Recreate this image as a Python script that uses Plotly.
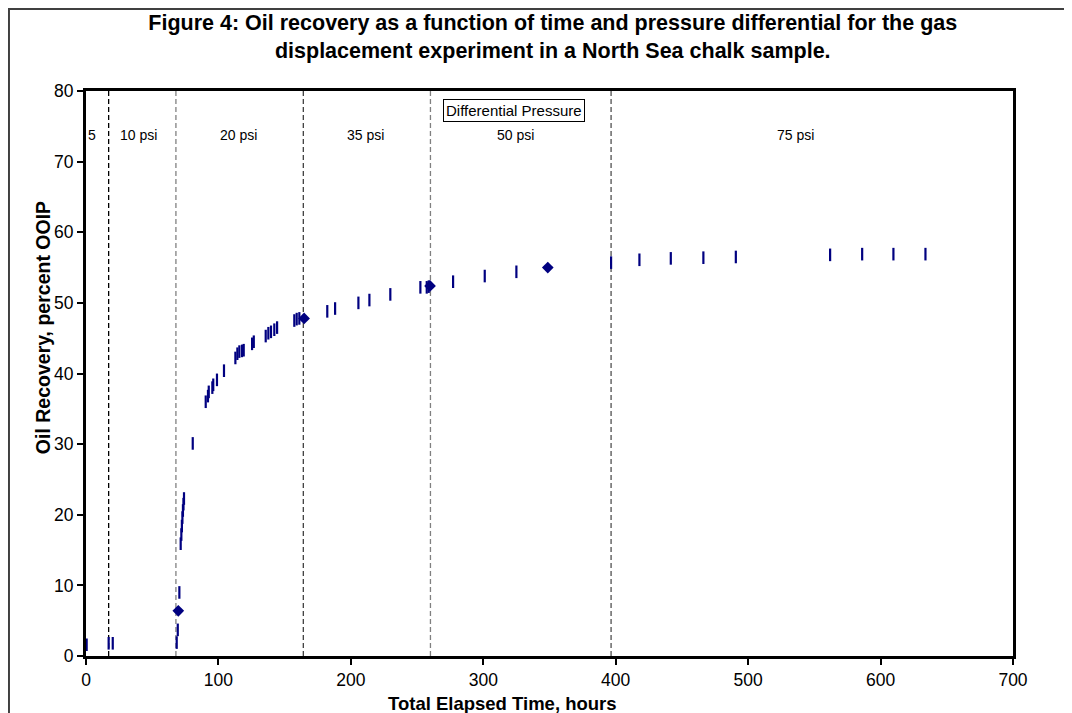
import plotly.graph_objects as go

# ---- data ----
time_h = [0.5, 17.1, 20.2, 68.5, 69.3, 70.5, 71.5, 72.0, 72.4, 72.8, 73.2, 73.6, 74.0,
          80.6, 90.4, 92.1, 92.7, 95.4, 96.1, 98.9, 104.2, 112.8, 114.3, 115.8, 117.8,
          119.1, 125.4, 126.7, 135.7, 137.7, 139.7, 142.2, 144.3, 157.3, 159.1, 161.1,
          182.2, 188.1, 205.7, 214.0, 229.8, 252.5, 257.3, 258.8, 277.2, 301.1, 325.0,
          396.5, 417.9, 441.6, 466.2, 490.7, 561.9, 586.1, 609.7, 633.9]
recovery = [1.6, 1.8, 1.8, 1.9, 3.7, 9.0, 15.9, 17.2, 18.4, 19.6, 20.6, 21.5, 22.3,
            30.1, 36.0, 36.8, 37.4, 38.0, 38.4, 39.1, 40.4, 42.2, 42.8, 43.1, 43.2,
            43.3, 44.2, 44.5, 45.3, 45.7, 45.9, 46.2, 46.5, 47.5, 47.7, 47.8,
            48.8, 49.2, 50.0, 50.4, 51.2, 52.2, 52.2, 52.3, 53.0, 53.8, 54.4,
            55.7, 56.1, 56.3, 56.4, 56.5, 56.8, 56.9, 56.9, 56.9]

diamond_time = [69.7, 164.7, 259.8, 348.7]
diamond_recovery = [6.4, 47.8, 52.4, 55.0]

step_times = [17.1, 67.9, 164.1, 260.1, 396.5]
step_colors = ["#000000", "#808080", "#404040", "#808080", "#505050"]

psi_labels = ["5", "10 psi", "20 psi", "35 psi", "50 psi", "75 psi"]
psi_label_x = [4.5, 40.0, 115.3, 211.0, 324.3, 536.0]
psi_label_y = 73.8

NAVY = "#000080"
FONT = "Liberation Sans, Arial, sans-serif"

fig = go.Figure()
fig.add_trace(go.Scatter(
    x=time_h, y=recovery, mode="markers",
    marker=dict(symbol="line-ns", size=9, line=dict(color=NAVY, width=2.2), color=NAVY),
    showlegend=False, hoverinfo="x+y"))
fig.add_trace(go.Scatter(
    x=diamond_time, y=diamond_recovery, mode="markers",
    marker=dict(symbol="diamond", size=9, color=NAVY),
    showlegend=False, hoverinfo="x+y"))

for t, c in zip(step_times, step_colors):
    fig.add_shape(type="line", x0=t, x1=t, y0=0, y1=80, xref="x", yref="y",
                  line=dict(color=c, width=1.3, dash="5px,3px"), layer="below")

for lab, x in zip(psi_labels, psi_label_x):
    fig.add_annotation(x=x, y=psi_label_y, text=lab, showarrow=False,
                       font=dict(family=FONT, size=14, color="black"))

fig.add_annotation(x=323.0, y=77.3, text="Differential Pressure", showarrow=False,
                   font=dict(family=FONT, size=15, color="black"),
                   bordercolor="black", borderwidth=1, borderpad=2, bgcolor="white")

# axis titles
fig.add_annotation(xref="paper", yref="paper", x=0.4488, y=-0.0832,
                   text="<b>Total Elapsed Time, hours</b>", showarrow=False,
                   xanchor="center", yanchor="middle",
                   font=dict(family=FONT, size=18.5, color="black"))
fig.add_annotation(xref="paper", yref="paper", x=-0.0464, y=0.582,
                   text="<b>Oil Recovery, percent OOIP</b>", showarrow=False,
                   textangle=-90, xanchor="center", yanchor="middle",
                   font=dict(family=FONT, size=19.5, color="black"))

# outer chart border (left/top visible)
fig.add_shape(type="rect", xref="paper", yref="paper",
              x0=-0.0831, x1=1.12, y0=-0.15, y1=1.1451,
              line=dict(color="#404040", width=2), fillcolor="rgba(0,0,0,0)")

fig.update_layout(
    width=1064, height=705,
    margin=dict(l=78, r=59, t=83, b=57),
    paper_bgcolor="white", plot_bgcolor="white",
    font=dict(family=FONT, size=17, color="black"),
    title=dict(
        text="<b>Figure 4: Oil recovery as a function of time and pressure differential for the gas<br>displacement experiment in a North Sea chalk sample.</b>",
        x=0.512, xref="container", xanchor="center", y=0.969, yanchor="middle",
        font=dict(family=FONT, size=21.5, color="black")),
)
fig.update_xaxes(
    range=[0, 700], dtick=100, tick0=0, showgrid=False, zeroline=False,
    showline=True, linecolor="black", linewidth=3, mirror=True,
    ticks="outside", ticklen=6, tickwidth=2, tickcolor="black",
    tickfont=dict(family=FONT, size=17.5))
fig.update_yaxes(
    range=[0, 80], dtick=10, tick0=0, showgrid=False, zeroline=False,
    showline=True, linecolor="black", linewidth=3, mirror=True,
    ticks="outside", ticklen=6, tickwidth=2, tickcolor="black",
    tickfont=dict(family=FONT, size=17.5))

fig.write_html("out.html")
